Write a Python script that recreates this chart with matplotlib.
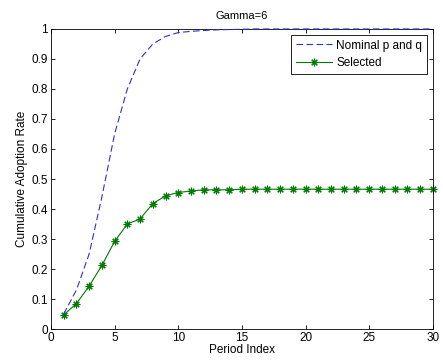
import matplotlib
matplotlib.use('Agg')
import matplotlib.pyplot as plt

# Data
periods = list(range(1, 31))
nominal = [0.05, 0.13, 0.25, 0.44, 0.65, 0.80, 0.90, 0.95, 0.975, 0.988,
           0.992, 0.995, 0.997, 0.998, 0.999] + [1.0] * 15
selected = [0.047, 0.085, 0.143, 0.212, 0.292, 0.35, 0.367, 0.418, 0.444, 0.455,
            0.46, 0.464, 0.464, 0.464] + [0.466] * 16

plt.rcParams['font.family'] = ['Liberation Sans', 'DejaVu Sans']

fig = plt.figure(figsize=(4.43, 3.62), dpi=100)
ax = fig.add_axes([0.115, 0.091, 0.862, 0.829])

ax.plot(periods, nominal, linestyle=(0, (6, 3)), color='#3030d0', linewidth=0.8,
        label='Nominal p and q', clip_on=False, zorder=3)
ax.plot(periods, selected, color='#007a00', linewidth=0.8, marker=(8, 2, 0),
        markersize=5.5, markeredgewidth=0.8, label='Selected', clip_on=False)

ax.set_xlim(0, 30)
ax.set_ylim(0, 1)
ax.set_xticks(range(0, 31, 5))
ax.set_yticks([i / 10 for i in range(11)])
ax.set_yticklabels(['0', '0.1', '0.2', '0.3', '0.4', '0.5', '0.6', '0.7', '0.8', '0.9', '1'])
ax.tick_params(direction='in', top=True, right=True, labelsize=8.5, length=3, width=0.6, pad=2)
for s in ax.spines.values():
    s.set_linewidth(0.6)

ax.set_title('Gamma=6', fontsize=8, pad=7)
ax.set_xlabel('Period Index', fontsize=8.5, labelpad=0)
ax.set_ylabel('Cumulative Adoption Rate', fontsize=8.5, labelpad=3)

leg = ax.legend(loc='upper right', fontsize=8.5, fancybox=False, framealpha=1,
                edgecolor='black', borderaxespad=0.5, handlelength=3.0,
                handletextpad=0.4, borderpad=0.4, labelspacing=0.45)
leg.get_frame().set_linewidth(0.6)

plt.savefig('out.png', dpi=100)
